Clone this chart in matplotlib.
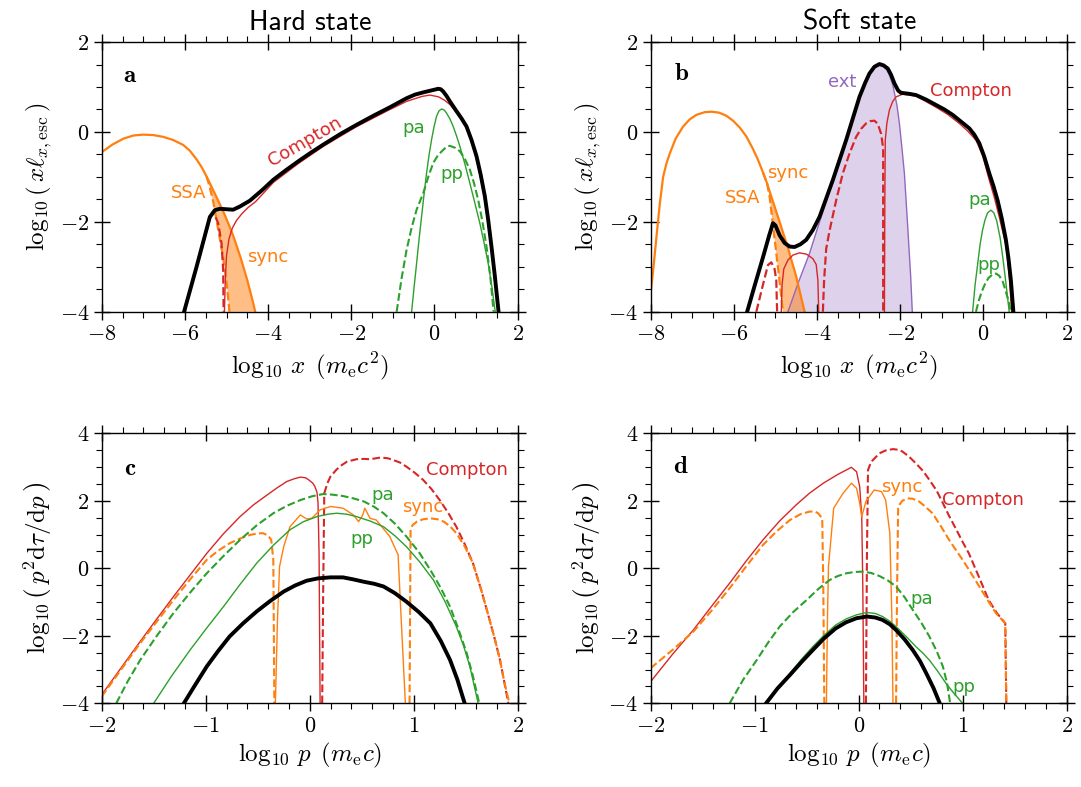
import matplotlib
matplotlib.use('Agg')
import matplotlib.pyplot as plt
from matplotlib.ticker import MultipleLocator, FuncFormatter

plt.rcParams['mathtext.fontset'] = 'cm'
plt.rcParams['font.family'] = 'DejaVu Sans'

RED = '#d62728'
ORANGE = '#ff7f0e'
GREEN = '#2ca02c'
PURPLE = '#9467bd'

# ---------------- panel a (hard state, photons) ----------------
a_sync_x = [-8.0, -7.74, -7.48, -7.24, -7.0, -6.76, -6.52, -6.28, -6.04, -5.88, -5.72, -5.60,
            -5.48, -5.24, -5.04, -4.85, -4.66, -4.50, -4.36, -4.31]
a_sync_y = [-0.45, -0.28, -0.15, -0.08, -0.06, -0.07, -0.11, -0.18, -0.29, -0.42, -0.61, -0.78,
            -0.99, -1.45, -1.85, -2.28, -2.80, -3.30, -3.80, -4.0]
a_ssa_x = [-5.48, -5.41, -5.32, -5.24, -5.16, -5.08, -5.0, -4.96, -4.93]
a_ssa_y = [-0.99, -1.20, -1.55, -1.96, -2.38, -2.80, -3.35, -3.70, -4.0]
a_tot_x = [-6.02, -5.72, -5.40, -5.28, -5.16, -5.0, -4.84, -4.68, -4.44, -4.15, -3.87, -3.57,
           -3.27, -2.97, -2.67, -2.27, -1.87, -1.47, -1.07, -0.87, -0.67, -0.47, -0.27, -0.09,
           0.09, 0.15, 0.21, 0.29, 0.37, 0.45, 0.53, 0.65, 0.77, 0.89, 1.01, 1.11, 1.21, 1.29,
           1.37, 1.45, 1.54]
a_tot_y = [-4.0, -3.0, -1.89, -1.74, -1.71, -1.72, -1.73, -1.66, -1.53, -1.30, -1.06, -0.85,
           -0.65, -0.46, -0.28, -0.05, 0.16, 0.36, 0.55, 0.65, 0.75, 0.83, 0.88, 0.92,
           0.96, 0.95, 0.90, 0.80, 0.68, 0.57, 0.46, 0.30, 0.12, -0.18, -0.54, -0.95, -1.43, -1.95,
           -2.55, -3.2, -4.0]
a_comp_x = [-5.05, -5.03, -5.0, -4.94, -4.86, -4.76, -4.64, -4.48, -4.30, -3.87, -3.27, -2.67,
            -1.87, -1.07, -0.67, -0.30, -0.11, 0.10, 0.25, 0.37, 0.47, 0.57, 0.67, 0.77, 0.87,
            0.97, 1.07, 1.17, 1.26, 1.35, 1.45, 1.56]
a_comp_y = [-4.0, -3.3, -2.75, -2.38, -2.14, -1.97, -1.83, -1.68, -1.55, -1.12, -0.70, -0.32,
            0.12, 0.50, 0.68, 0.79, 0.82, 0.78, 0.70, 0.61, 0.50, 0.38, 0.26, 0.12, -0.12,
            -0.45, -0.85, -1.29, -1.85, -2.45, -3.2, -4.0]
a_thc_x = [-6.02, -5.72, -5.40, -5.34, -5.28, -5.20, -5.12, -5.08, -5.07]
a_thc_y = [-4.0, -3.0, -1.92, -1.84, -1.86, -2.03, -2.48, -3.07, -4.0]
a_pa_x = [-0.55, -0.49, -0.43, -0.37, -0.31, -0.25, -0.19, -0.13, -0.07, -0.01, 0.05, 0.11, 0.17,
          0.23, 0.29, 0.37, 0.45, 0.53, 0.61, 0.73, 0.85, 0.97, 1.09, 1.19, 1.29, 1.38, 1.46]
a_pa_y = [-4.0, -3.45, -2.92, -2.38, -1.88, -1.38, -0.91, -0.51, -0.17, 0.12, 0.35, 0.47, 0.51,
          0.49, 0.42, 0.29, 0.12, -0.09, -0.32, -0.71, -1.14, -1.58, -2.03, -2.46, -2.92, -3.45, -4.0]
a_pp_x = [-0.91, -0.79, -0.67, -0.55, -0.43, -0.27, -0.15, -0.03, 0.09, 0.21, 0.29, 0.37, 0.49,
          0.61, 0.73, 0.85, 0.95, 1.05, 1.15, 1.25, 1.34, 1.42]
a_pp_y = [-4.0, -3.25, -2.62, -2.13, -1.73, -1.36, -1.0, -0.69, -0.51, -0.40, -0.33, -0.31, -0.35,
          -0.43, -0.60, -0.84, -1.14, -1.51, -1.98, -2.55, -3.2, -4.0]

# ---------------- panel b (soft state, photons) ----------------
b_sync_x = [-8.0, -7.92, -7.86, -7.78, -7.70, -7.62, -7.54, -7.40, -7.22, -7.06, -6.90, -6.70,
            -6.54, -6.36, -6.18, -6.02, -5.86, -5.70, -5.54, -5.42,
            -5.30, -5.20, -5.06, -4.90, -4.70, -4.50, -4.30]
b_sync_y = [-3.6, -2.9, -2.33, -1.6, -1.0, -0.70, -0.48, -0.15, 0.12, 0.28, 0.38, 0.44,
            0.45, 0.43, 0.36, 0.25, 0.10, -0.10, -0.38, -0.62,
            -0.90, -1.15, -1.55, -2.0, -2.58, -3.22, -4.0]
b_ssa_x = [-5.30, -5.20, -5.14, -5.06, -4.98, -4.90, -4.82]
b_ssa_y = [-0.90, -1.15, -1.44, -2.07, -2.70, -3.33, -4.0]
b_ext_x = [-4.70, -4.45, -4.18, -3.94, -3.62, -3.30, -2.98, -2.84, -2.74, -2.62, -2.50, -2.40,
           -2.32, -2.25, -2.18, -2.08, -2.02, -1.96, -1.90, -1.82, -1.75, -1.71]
b_ext_y = [-4.0, -3.35, -2.70, -2.0, -1.09, -0.20, 0.76, 1.08, 1.28, 1.44, 1.49, 1.46,
           1.38, 1.24, 1.05, 0.60, 0.19, -0.35, -0.92, -2.11, -3.2, -4.0]
b_tot_x = [-5.68, -5.5, -5.3, -5.15, -5.06, -5.0, -4.9, -4.78, -4.66, -4.54, -4.40, -4.26, -4.10,
           -3.94, -3.62, -3.30, -2.98, -2.84, -2.74, -2.62, -2.50, -2.40, -2.30, -2.22, -2.14,
           -2.05, -1.98, -1.80, -1.62, -1.38, -1.14, -0.94, -0.74, -0.50, -0.34, -0.22, -0.10,
           0.02, 0.14, 0.24, 0.34, 0.44, 0.54, 0.60, 0.66, 0.72]
b_tot_y = [-4.0, -3.42, -2.79, -2.30, -2.03, -2.08, -2.30, -2.47, -2.55, -2.56, -2.50, -2.40, -2.18,
           -1.89, -1.07, -0.18, 0.78, 1.10, 1.30, 1.45, 1.51, 1.48, 1.41, 1.27, 1.08,
           0.92, 0.87, 0.85, 0.82, 0.72, 0.60, 0.50, 0.38, 0.20, 0.08, -0.06, -0.25,
           -0.55, -0.92, -1.20, -1.52, -1.92, -2.40, -2.8, -3.3, -4.0]
b_comp1_x = [-4.86, -4.84, -4.80, -4.70, -4.58, -4.42, -4.25, -4.10, -4.02, -3.98, -3.96]
b_comp1_y = [-4.0, -3.4, -3.05, -2.85, -2.74, -2.69, -2.72, -2.82, -2.95, -3.3, -4.0]
b_comp2_x = [-2.38, -2.37, -2.36, -2.32, -2.26, -2.18, -2.10, -1.94, -1.62, -1.14, -0.86, -0.58,
             -0.38, -0.18, -0.02, 0.14, 0.26, 0.38, 0.46, 0.54, 0.62, 0.68]
b_comp2_y = [-4.0, -1.5, -0.18, 0.20, 0.49, 0.68, 0.78, 0.84, 0.80, 0.55, 0.39, 0.19,
             0.02, -0.18, -0.52, -1.07, -1.45, -1.89, -2.2, -2.5, -3.2, -4.0]
b_thc1_x = [-5.46, -5.30, -5.18, -5.10, -5.02, -4.98, -4.96]
b_thc1_y = [-4.0, -3.4, -2.96, -2.90, -3.05, -3.30, -4.0]
b_thc2_x = [-3.86, -3.83, -3.78, -3.70, -3.54, -3.38, -3.22, -3.06, -2.94, -2.82, -2.72, -2.62,
            -2.54, -2.46, -2.42, -2.41, -2.41]
b_thc2_y = [-4.0, -3.3, -2.6, -2.2, -1.52, -0.92, -0.48, -0.11, 0.07, 0.19, 0.24, 0.25,
            0.18, -0.04, -0.30, -0.40, -4.0]
b_pa_x = [-0.26, -0.20, -0.14, -0.08, -0.02, 0.04, 0.10, 0.18, 0.25, 0.32, 0.40, 0.46, 0.52,
          0.57, 0.62]
b_pa_y = [-4.0, -3.4, -2.95, -2.5, -2.18, -1.95, -1.80, -1.74, -1.80, -1.98, -2.35, -2.75, -3.2,
          -3.6, -4.0]
b_pp_x = [-0.18, -0.11, -0.04, 0.04, 0.12, 0.22, 0.30, 0.38, 0.46, 0.53, 0.60, 0.66]
b_pp_y = [-4.0, -3.75, -3.55, -3.38, -3.25, -3.17, -3.15, -3.2, -3.32, -3.52, -3.75, -4.0]

# ---------------- panel c (hard state, leptons) ----------------
c_comp_x = [-2.0, -1.79, -1.63, -1.47, -1.31, -1.15, -0.99, -0.83, -0.67, -0.54, -0.41, -0.31,
            -0.22, -0.15, -0.09, -0.04, -0.01, 0.03, 0.05, 0.07, 0.08, 0.09, 0.10]
c_comp_y = [-3.75, -2.85, -2.17, -1.50, -0.84, -0.20, 0.44, 1.02, 1.53, 1.88, 2.17, 2.39,
            2.57, 2.65, 2.70, 2.68, 2.62, 2.52, 2.42, 2.25, 1.93, 0.44, -4.0]
c_compd_x = [0.12, 0.13, 0.14, 0.17, 0.20, 0.26, 0.31, 0.36, 0.45, 0.52, 0.58, 0.68, 0.75, 0.80,
             0.87, 0.93, 1.01, 1.09, 1.17, 1.25, 1.33, 1.41, 1.49, 1.57, 1.65, 1.73, 1.78, 1.83,
             1.87, 1.91]
c_compd_y = [-4.0, -0.54, 2.22, 2.52, 2.72, 2.93, 3.06, 3.16, 3.23, 3.24, 3.23, 3.28, 3.26, 3.21,
             3.13, 3.01, 2.83, 2.62, 2.35, 2.02, 1.65, 1.23, 0.72, 0.15, -0.65, -1.53, -2.1, -2.72,
             -3.35, -4.0]
c_syncd1_x = [-2.0, -1.79, -1.63, -1.47, -1.31, -1.15, -0.99, -0.88, -0.77, -0.67, -0.57, -0.50,
              -0.45, -0.40, -0.37, -0.35, -0.34]
c_syncd1_y = [-3.80, -2.9, -2.22, -1.58, -0.94, -0.33, 0.25, 0.52, 0.74, 0.88, 0.99, 1.03,
              1.04, 0.97, 0.84, 0.25, -4.0]
c_syncd2_x = [0.96, 0.97, 0.99, 1.03, 1.09, 1.16, 1.23, 1.29, 1.35, 1.41, 1.49, 1.57, 1.65, 1.73,
              1.78, 1.83, 1.87, 1.92]
c_syncd2_y = [-4.0, 1.14, 1.28, 1.38, 1.45, 1.48, 1.45, 1.38, 1.24, 1.04, 0.65, 0.15, -0.65, -1.53,
              -2.1, -2.72, -3.35, -4.0]
c_sync_x = [-0.33, -0.31, -0.29, -0.25, -0.19, -0.09, -0.03, 0.02, 0.10, 0.20, 0.32, 0.42, 0.47,
            0.51, 0.53, 0.58, 0.64, 0.77, 0.85, 0.88, 0.92]
c_sync_y = [-4.0, -1.53, 0.05, 0.64, 1.23, 1.58, 1.46, 1.48, 1.73, 1.83, 1.78, 1.58, 1.38,
            1.58, 1.78, 1.48, 1.43, 0.94, 0.40, -1.53, -4.0]
c_pa_x = [-1.86, -1.75, -1.63, -1.47, -1.31, -1.15, -0.99, -0.83, -0.67, -0.51, -0.35, -0.22,
          -0.09, 0.02, 0.13, 0.22, 0.32, 0.42, 0.52, 0.62, 0.71, 0.82, 0.93, 1.05, 1.16, 1.26,
          1.35, 1.43, 1.51, 1.57, 1.63]
c_pa_y = [-4.0, -3.35, -2.72, -2.0, -1.33, -0.72, -0.15, 0.36, 0.84, 1.27, 1.63, 1.85,
          2.02, 2.13, 2.20, 2.18, 2.14, 2.07, 1.98, 1.82, 1.63, 1.32, 0.94, 0.48, -0.05, -0.58,
          -1.14, -1.8, -2.52, -3.2, -4.0]
c_pp_x = [-1.50, -1.33, -1.15, -0.99, -0.83, -0.67, -0.51, -0.35, -0.19, -0.06, 0.07, 0.17, 0.26,
          0.36, 0.45, 0.58, 0.71, 0.82, 0.93, 1.06, 1.19, 1.30, 1.41, 1.48, 1.54, 1.62]
c_pp_y = [-4.0, -3.2, -2.42, -1.77, -1.14, -0.48, 0.15, 0.68, 1.14, 1.38, 1.53, 1.60, 1.63,
          1.60, 1.53, 1.40, 1.23, 0.96, 0.64, 0.18, -0.35, -0.98, -1.73, -2.3, -2.91, -4.0]
c_tot_x = [-1.21, -1.10, -0.99, -0.88, -0.77, -0.64, -0.51, -0.38, -0.25, -0.14, -0.03, 0.08,
           0.20, 0.32, 0.42, 0.52, 0.62, 0.71, 0.82, 0.93, 1.05, 1.16, 1.26, 1.35, 1.42, 1.49]
c_tot_y = [-4.0, -3.45, -2.91, -2.45, -2.02, -1.63, -1.28, -0.97, -0.69, -0.51, -0.37, -0.30,
           -0.27, -0.27, -0.33, -0.40, -0.46, -0.54, -0.74, -0.99, -1.30, -1.63, -2.15, -2.72,
           -3.3, -4.0]

# ---------------- panel d (soft state, leptons) ----------------
d_comp_x = [-2.0, -1.79, -1.59, -1.41, -1.24, -1.08, -0.92, -0.76, -0.60, -0.47, -0.34, -0.20,
            -0.07, -0.02, 0.01, 0.03, 0.04, 0.05]
d_comp_y = [-3.36, -2.55, -1.83, -1.11, -0.44, 0.22, 0.84, 1.40, 1.88, 2.23, 2.52, 2.78,
            2.99, 2.86, 2.42, 1.53, -0.54, -4.0]
d_compd_x = [0.07, 0.08, 0.09, 0.12, 0.17, 0.21, 0.26, 0.33, 0.38, 0.42, 0.48, 0.55, 0.62, 0.68,
             0.75, 0.81, 0.87, 0.94, 1.00, 1.06, 1.16, 1.25, 1.33, 1.41, 1.42]
d_compd_y = [-4.0, 0.44, 2.91, 3.15, 3.31, 3.42, 3.49, 3.53, 3.51, 3.46, 3.32, 3.11, 2.88, 2.62,
             2.30, 1.93, 1.55, 1.14, 0.78, 0.44, -0.28, -0.94, -1.33, -1.63, -4.0]
d_syncd1_x = [-2.0, -1.79, -1.59, -1.41, -1.24, -1.08, -0.92, -0.79, -0.66, -0.56, -0.47, -0.42,
              -0.39, -0.35, -0.34, -0.33]
d_syncd1_y = [-2.96, -2.42, -1.88, -1.24, -0.59, 0.06, 0.69, 1.09, 1.43, 1.60, 1.68, 1.68,
              1.63, 1.48, -0.54, -4.0]
d_syncd2_x = [0.36, 0.37, 0.38, 0.42, 0.47, 0.52, 0.58, 0.64, 0.71, 0.79, 0.87, 0.94, 1.00, 1.08,
              1.16, 1.24, 1.32, 1.41, 1.42]
d_syncd2_y = [-4.0, -0.54, 1.83, 2.0, 2.07, 2.06, 1.98, 1.83, 1.63, 1.25, 0.84, 0.52, 0.25, -0.14,
              -0.54, -0.94, -1.33, -1.63, -4.0]
d_sync_x = [-0.31, -0.30, -0.29, -0.24, -0.15, -0.07, -0.02, 0.01, 0.03, 0.07, 0.15, 0.22,
            0.26, 0.30, 0.32, 0.33]
d_sync_y = [-4.0, -1.53, 0.05, 1.78, 2.22, 2.52, 2.37, 1.93, 1.53, 1.98, 2.32, 2.27,
            2.02, 1.04, -1.53, -4.0]
d_pa_x = [-1.24, -1.11, -0.98, -0.87, -0.76, -0.63, -0.50, -0.39, -0.28, -0.20, -0.12, -0.04,
          0.04, 0.12, 0.20, 0.28, 0.36, 0.44, 0.52, 0.60, 0.68, 0.75, 0.81, 0.85, 0.88]
d_pa_y = [-4.0, -3.3, -2.72, -2.2, -1.73, -1.30, -0.94, -0.62, -0.35, -0.23, -0.15, -0.11,
          -0.10, -0.14, -0.23, -0.36, -0.54, -0.85, -1.23, -1.60, -2.02, -2.45, -2.91, -3.4, -4.0]
d_pp_x = [-0.89, -0.78, -0.66, -0.55, -0.44, -0.33, -0.22, -0.12, -0.02, 0.08, 0.16, 0.23, 0.30,
          0.36, 0.45, 0.55, 0.62, 0.68, 0.76, 0.84, 0.92, 1.0]
d_pp_y = [-4.0, -3.54, -3.11, -2.70, -2.32, -1.98, -1.68, -1.50, -1.38, -1.31, -1.34, -1.43, -1.57,
          -1.73, -2.00, -2.32, -2.52, -2.72, -3.05, -3.41, -3.72, -4.0]
d_tot_x = [-0.89, -0.78, -0.66, -0.55, -0.44, -0.33, -0.22, -0.12, -0.02, 0.08, 0.16, 0.23, 0.30,
           0.36, 0.44, 0.52, 0.59, 0.65, 0.72, 0.78]
d_tot_y = [-4.0, -3.56, -3.16, -2.78, -2.42, -2.07, -1.78, -1.60, -1.48, -1.43, -1.46, -1.53, -1.66,
           -1.83, -2.10, -2.42, -2.75, -3.11, -3.55, -4.0]

titles = ['Hard state', 'Soft state']
xlabel_top = r'$\log_{10}\,x\ \,(m_{\rm e}c^2)$'
ylabel_top = r'$\log_{10}\left(\,x\ell_{x,\mathrm{esc}}\,\right)$'
xlabel_bot = r'$\log_{10}\,p\ \,(m_{\rm e}c)$'
ylabel_bot = r'$\log_{10}\left(\,p^2\mathrm{d}\tau/\mathrm{d}p\,\right)$'

fig = plt.figure(figsize=(10.81, 7.87), dpi=100)
ax_a = fig.add_axes([0.0941, 0.6039, 0.3848, 0.3427])
ax_b = fig.add_axes([0.6019, 0.6039, 0.3848, 0.3427])
ax_c = fig.add_axes([0.0941, 0.1064, 0.3848, 0.3431])
ax_d = fig.add_axes([0.6019, 0.1064, 0.3848, 0.3431])

fmt = FuncFormatter(lambda v, p: r'$%d$' % int(round(v)))


def style(ax, xlim, ylim, xmaj, xmin, ymaj, ymin, xlabel, ylabel):
  ax.set_xlim(xlim)
  ax.set_ylim(ylim)
  ax.xaxis.set_major_locator(MultipleLocator(xmaj))
  ax.xaxis.set_minor_locator(MultipleLocator(xmin))
  ax.yaxis.set_major_locator(MultipleLocator(ymaj))
  ax.yaxis.set_minor_locator(MultipleLocator(ymin))
  ax.xaxis.set_major_formatter(fmt)
  ax.yaxis.set_major_formatter(fmt)
  ax.tick_params(which='major', direction='inout', length=12, width=1, top=True, right=True,
                 labelsize=16, pad=3)
  ax.tick_params(which='minor', direction='out', length=4, width=0.8, top=True, right=True)
  for s in ax.spines.values():
    s.set_linewidth(1)
  ax.set_xlabel(xlabel, fontsize=18, labelpad=4)
  ax.set_ylabel(ylabel, fontsize=18, labelpad=4)


def label(ax, x, y, s, c, **kw):
  ax.text(x, y, s, color=c, fontsize=13, ha='center', va='center', **kw)


# panel a
ax = ax_a
ax.fill(a_sync_x[12:] + a_ssa_x[::-1], a_sync_y[12:] + a_ssa_y[::-1], color=ORANGE, alpha=0.5,
        lw=0, zorder=1)
ax.plot(a_sync_x, a_sync_y, color=ORANGE, lw=1.6, zorder=2)
ax.plot(a_ssa_x, a_ssa_y, color=ORANGE, lw=1.6, ls='--', zorder=2)
ax.plot(a_thc_x, a_thc_y, color=RED, lw=1.6, ls='--', zorder=2)
ax.plot(a_comp_x, a_comp_y, color=RED, lw=1.0, zorder=2)
ax.plot(a_pa_x, a_pa_y, color=GREEN, lw=1.0, zorder=2)
ax.plot(a_pp_x, a_pp_y, color=GREEN, lw=1.5, ls='--', zorder=2)
ax.plot(a_tot_x, a_tot_y, color='k', lw=2.8, zorder=3)
label(ax, -5.92, -1.36, 'SSA', ORANGE)
label(ax, -4.01, -2.79, 'sync', ORANGE)
label(ax, -3.12, -0.22, 'Compton', RED, rotation=30, rotation_mode='anchor')
label(ax, -0.51, 0.09, 'pa', GREEN)
label(ax, 0.41, -0.94, 'pp', GREEN)
ax.text(-7.32, 1.27, r'$\mathbf{a}$', fontsize=18, ha='center', va='center')
style(ax, (-8, 2), (-4, 2), 2, 0.5, 2, 0.5, xlabel_top, ylabel_top)

# panel b
ax = ax_b
ax.fill(b_ext_x, b_ext_y, color=PURPLE, alpha=0.3, lw=0, zorder=1)
ax.fill(b_sync_x[20:] + b_ssa_x[::-1], b_sync_y[20:] + b_ssa_y[::-1], color=ORANGE, alpha=0.5,
        lw=0, zorder=1)
ax.plot(b_ext_x, b_ext_y, color=PURPLE, lw=1.0, zorder=2)
ax.plot(b_sync_x, b_sync_y, color=ORANGE, lw=1.6, zorder=2)
ax.plot(b_ssa_x, b_ssa_y, color=ORANGE, lw=1.6, ls='--', zorder=2)
ax.plot(b_thc1_x, b_thc1_y, color=RED, lw=1.6, ls='--', zorder=2)
ax.plot(b_thc2_x, b_thc2_y, color=RED, lw=1.6, ls='--', zorder=2)
ax.plot(b_comp1_x, b_comp1_y, color=RED, lw=1.0, zorder=2)
ax.plot(b_comp2_x, b_comp2_y, color=RED, lw=1.0, zorder=2)
ax.plot(b_pa_x, b_pa_y, color=GREEN, lw=1.0, zorder=2)
ax.plot(b_pp_x, b_pp_y, color=GREEN, lw=1.5, ls='--', zorder=2)
ax.plot(b_tot_x, b_tot_y, color='k', lw=2.8, zorder=3)
label(ax, -3.40, 1.10, 'ext', PURPLE)
label(ax, -0.30, 0.92, 'Compton', RED)
label(ax, -4.70, -0.91, 'sync', ORANGE)
label(ax, -5.78, -1.48, 'SSA', ORANGE)
label(ax, -0.09, -1.52, 'pa', GREEN)
label(ax, 0.14, -2.96, 'pp', GREEN)
ax.text(-7.26, 1.30, r'$\mathbf{b}$', fontsize=18, ha='center', va='center')
style(ax, (-8, 2), (-4, 2), 2, 0.5, 2, 0.5, xlabel_top, ylabel_top)

# panel c
ax = ax_c
ax.plot(c_comp_x, c_comp_y, color=RED, lw=1.0, zorder=2)
ax.plot(c_compd_x, c_compd_y, color=RED, lw=1.5, ls='--', zorder=2)
ax.plot(c_syncd1_x, c_syncd1_y, color=ORANGE, lw=1.5, ls='--', zorder=2)
ax.plot(c_syncd2_x, c_syncd2_y, color=ORANGE, lw=1.5, ls='--', zorder=2)
ax.plot(c_sync_x, c_sync_y, color=ORANGE, lw=1.0, zorder=2)
ax.plot(c_pa_x, c_pa_y, color=GREEN, lw=1.5, ls='--', zorder=2)
ax.plot(c_pp_x, c_pp_y, color=GREEN, lw=1.0, zorder=2)
ax.plot(c_tot_x, c_tot_y, color='k', lw=2.8, zorder=3)
label(ax, 1.51, 2.91, 'Compton', RED)
label(ax, 0.70, 2.17, 'pa', GREEN)
label(ax, 1.09, 1.81, 'sync', ORANGE)
label(ax, 0.50, 0.87, 'pp', GREEN)
ax.text(-1.73, 2.98, r'$\mathbf{c}$', fontsize=18, ha='center', va='center')
style(ax, (-2, 2), (-4, 4), 1, 0.2, 2, 0.5, xlabel_bot, ylabel_bot)

# panel d
ax = ax_d
ax.plot(d_comp_x, d_comp_y, color=RED, lw=1.0, zorder=2)
ax.plot(d_compd_x, d_compd_y, color=RED, lw=1.5, ls='--', zorder=2)
ax.plot(d_syncd1_x, d_syncd1_y, color=ORANGE, lw=1.5, ls='--', zorder=2)
ax.plot(d_syncd2_x, d_syncd2_y, color=ORANGE, lw=1.5, ls='--', zorder=2)
ax.plot(d_sync_x, d_sync_y, color=ORANGE, lw=1.0, zorder=2)
ax.plot(d_pa_x, d_pa_y, color=GREEN, lw=1.5, ls='--', zorder=2)
ax.plot(d_pp_x, d_pp_y, color=GREEN, lw=1.0, zorder=2)
ax.plot(d_tot_x, d_tot_y, color='k', lw=2.8, zorder=3)
label(ax, 0.41, 2.42, 'sync', ORANGE)
label(ax, 1.20, 2.02, 'Compton', RED)
label(ax, 0.61, -0.91, 'pa', GREEN)
label(ax, 1.01, -3.51, 'pp', GREEN)
ax.text(-1.71, 3.03, r'$\mathbf{d}$', fontsize=18, ha='center', va='center')
style(ax, (-2, 2), (-4, 4), 1, 0.2, 2, 0.5, xlabel_bot, ylabel_bot)

fig.text(0.2865, 0.962, titles[0], fontsize=20, family='cmss10', ha='center', va='baseline')
fig.text(0.7948, 0.962, titles[1], fontsize=20, family='cmss10', ha='center', va='baseline')

fig.savefig('out.png', dpi=100)
